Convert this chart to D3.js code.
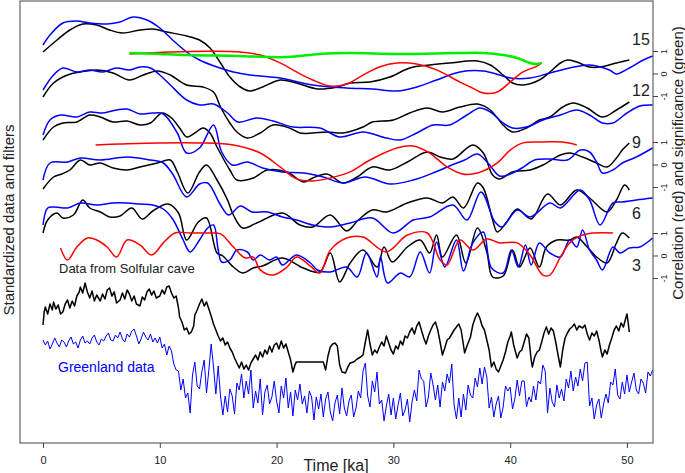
<!DOCTYPE html>
<html>
<head>
<meta charset="utf-8">
<script src="https://cdnjs.cloudflare.com/ajax/libs/d3/7.8.5/d3.min.js"></script>
<style>
  body { margin: 0; background: #fff; }
  text { font-family: "Liberation Sans", Arial, sans-serif; fill: #222; }
</style>
</head>
<body>
<div id="chart"></div>
<script>
// ---- data: [time ka, standardized value] ----
// filtered records, one pair per filter period (black = Solfular, blue = Greenland)
var filt15Black = [[0,0.8],[1.2,2.0],[2.3,3.0],[3.4,3.6],[4.6,3.5],[5.7,3.0],[6.8,2.7],[8.3,3.0],[9.4,3.1],[10.6,2.8],[12.3,2.4],[13.4,2.0],[14.3,1.2],[15.2,-0.3],[16.0,-1.7],[16.9,-2.7],[17.7,-3.1],[18.8,-2.7],[20.3,-2.0],[21.7,-2.3],[23.5,-2.9],[25.2,-2.7],[26.3,-2.3],[28.0,-2.2],[29.7,-1.7],[31.4,-0.8],[33.1,-0.5],[34.8,-0.3],[37.2,-0.1],[38.3,-0.5],[39.4,-1.5],[40.2,-2.3],[41.1,-2.5],[42.5,-2.0],[43.4,-1.2],[44.3,-0.3],[44.9,0],[45.7,-0.2],[46.8,-0.7],[47.7,-0.7],[49.1,-0.3],[50.2,0]];
var filt15Blue = [[0,1.5],[0.6,2.5],[1.7,3.7],[2.9,3.9],[4.0,3.7],[5.5,3.6],[6.6,3.8],[7.7,4.3],[8.9,4.0],[10.0,3.2],[11.1,2.0],[12.3,0.8],[13.4,0],[14.9,-0.7],[16.3,-1.2],[17.7,-1.5],[20.3,-1.8],[23.1,-2.5],[26.0,-2.8],[28.2,-2.9],[30.3,-3.1],[32.0,-2.7],[33.7,-2.0],[35.7,-1.2],[37.7,-1.1],[39.1,-1.5],[40.0,-1.8],[41.7,-1.8],[43.4,-1.3],[45.1,-0.8],[46.8,-0.5],[48.5,-1.0],[49.1,-1.4],[50.2,-0.8],[51.4,0],[52.2,0.4]];
var filt12Black = [[0,0.3],[0.9,1.7],[2.1,2.5],[3.2,2.8],[4.6,3.0],[6.0,2.7],[7.4,2.0],[8.6,2.5],[9.8,2.9],[10.9,2.5],[12.3,1.5],[13.7,1.3],[14.6,0.8],[15.2,-0.7],[16.0,-2.3],[16.6,-3.2],[17.5,-3.8],[18.6,-3.3],[19.7,-2.5],[21.1,-2.8],[22.0,-3.3],[23.1,-3.3],[24.3,-3.2],[25.7,-3.3],[27.4,-2.7],[28.2,-2.2],[30.0,-2.0],[31.4,-1.3],[32.9,-0.8],[34.2,-1.2],[35.7,-0.7],[37.2,-0.4],[38.3,-1.0],[39.4,-2.5],[40.2,-3.2],[41.4,-2.8],[42.5,-2.0],[43.4,-1.7],[44.5,-0.7],[45.4,-0.3],[46.6,-0.8],[47.9,-1.7],[49.1,-1.0],[50.2,-0.2]];
var filt12Blue = [[0,1.0],[0.9,2.5],[1.7,3.2],[2.9,2.8],[4.0,3.0],[5.1,2.8],[6.3,3.2],[7.4,3.0],[8.3,3.3],[9.2,3.2],[10.0,2.5],[10.9,1.5],[12.3,0],[13.4,-0.5],[14.6,-0.4],[15.8,-1.3],[16.7,-2.2],[18.3,-1.8],[19.7,-2.1],[21.4,-2.7],[23.7,-2.8],[25.4,-3.7],[27.4,-3.2],[29.4,-3.8],[30.6,-4.0],[32.0,-3.3],[33.4,-2.5],[34.8,-2.5],[36.3,-1.5],[37.4,-0.8],[38.3,-1.2],[39.4,-2.3],[40.2,-2.8],[41.4,-2.7],[42.8,-2.0],[44.3,-1.5],[45.7,-1.0],[46.8,-1.5],[47.9,-2.3],[48.8,-2.3],[50.0,-1.3],[51.1,-0.6],[52.2,-0.5]];
var filt9Black = [[0,0.5],[0.9,1.8],[1.7,2.2],[2.9,2.3],[4.0,3.0],[4.9,2.8],[6.0,2.3],[7.2,2.4],[8.3,2.0],[9.2,2.2],[10.2,3.2],[11.0,2.7],[11.7,1.7],[12.3,0.8],[13.0,1.2],[13.7,1.7],[14.3,1.2],[14.9,-0.2],[16.0,-2.5],[16.6,-3.5],[18.0,-3.3],[19.2,-2.5],[20.9,-2.7],[22.3,-3.7],[23.1,-3.3],[24.3,-2.9],[25.7,-3.8],[26.9,-3.2],[28.2,-2.2],[29.7,-2.5],[31.2,-1.7],[32.9,-0.7],[34.0,-1.2],[35.1,-1.4],[36.8,0],[37.7,-0.8],[38.5,-3.0],[39.1,-3.4],[40.2,-2.7],[41.7,-2.5],[42.8,-2.0],[44.3,-1.0],[45.1,-0.8],[46.2,-1.2],[47.4,-1.8],[48.3,-2.2],[49.1,-1.3],[49.6,-0.5],[50.2,0.2]];
var filt9Blue = [[0,1.0],[0.6,2.5],[1.5,3.0],[2.9,2.8],[4.0,3.3],[5.1,3.2],[6.3,3.5],[7.2,3.6],[8.3,3.1],[9.4,3.2],[10.3,3.1],[11.5,1.2],[12.3,-0.8],[13.4,-0.3],[14.6,2.0],[15.3,-0.7],[16.2,-2.0],[17.5,-1.7],[18.8,-2.3],[20.5,-2.7],[22.3,-2.8],[24.0,-3.2],[25.7,-3.8],[27.6,-3.2],[29.7,-3.9],[31.7,-3.5],[33.6,-2.7],[35.0,-2.0],[36.1,-1.5],[37.2,-0.9],[38.1,-1.8],[39.1,-3.1],[40.0,-2.9],[41.0,-2.3],[42.1,-1.5],[43.4,-1.4],[44.9,-1.5],[46.0,-0.5],[46.8,-0.7],[47.4,-1.7],[47.9,-2.8],[48.8,-2.5],[49.6,-1.8],[50.8,-1.2],[52.2,-0.3]];
var filt6Black = [[0,1.1],[0.9,2.3],[1.6,2.6],[2.3,3.0],[3.2,4.0],[4.0,3.5],[4.9,3.7],[6.0,3.2],[7.2,3.0],[8.3,3.3],[9.8,3.7],[10.9,4.0],[11.5,2.8],[12.4,0.7],[13.4,2.8],[14.0,3.5],[14.9,2.0],[15.8,0],[16.3,-1.5],[17.1,-2.8],[18.3,-2.3],[20.5,-1.3],[22.0,-2.5],[23.1,-2.7],[24.6,-1.5],[26.0,-3.1],[27.0,-2.0],[28.2,-1.0],[29.4,-1.2],[31.2,-0.3],[32.9,0.2],[34.2,-0.3],[35.1,0.3],[36.0,-0.8],[37.2,1.7],[37.7,1.2],[38.5,-2.0],[38.9,-3.2],[39.7,-2.2],[40.6,-0.9],[41.8,-1.9],[43.2,0.6],[44.3,-0.5],[45.7,1.0],[46.8,0.2],[48.3,-1.2],[49.1,0],[49.8,1.5],[50.2,1.0]];
var filt6Blue = [[0,2.0],[0.6,3.7],[2.1,3.8],[3.2,4.2],[4.9,4.0],[7.2,4.3],[9.2,4.0],[10.3,3.7],[11.1,2.6],[12.3,0.3],[13.4,1.6],[14.1,1.7],[15.2,-0.5],[15.9,-1.5],[16.9,-0.6],[17.9,-1.2],[19.2,-1.2],[20.5,-1.7],[21.7,-2.0],[23.1,-2.5],[24.6,-2.7],[26.3,-2.3],[28.2,-1.8],[30.0,-3.3],[31.7,-2.0],[33.1,-1.7],[35.1,-0.5],[36.3,-2.0],[37.5,0.8],[38.7,-2.2],[39.3,-2.7],[40.6,-1.0],[41.7,-1.7],[43.4,-0.3],[44.3,-0.8],[46.0,1.0],[46.8,0],[47.7,-2.5],[48.8,-0.3],[49.6,-0.2],[50.8,0],[52.2,0.2]];
var filt3Black = [[0,1.7],[0.4,3.0],[1.2,3.7],[1.7,3.2],[2.6,3.5],[3.4,5.0],[4.0,4.2],[4.9,3.8],[5.7,3.3],[6.6,3.4],[7.6,4.2],[8.5,3.1],[9.4,3.9],[10.7,4.6],[11.6,3.7],[12.3,1.0],[13.3,2.8],[14.0,3.2],[14.9,-0.3],[15.4,-0.6],[16.3,-1.7],[17.1,-2.3],[18.0,-1.8],[18.8,-1.6],[20.5,-0.8],[22.3,-1.8],[23.7,-2.2],[24.6,-0.3],[25.4,-3.2],[26.3,-1.3],[27.4,0],[28.6,-1.7],[29.2,0.3],[29.9,-1.2],[31.2,0.3],[32.3,1.0],[33.1,-0.3],[33.7,1.5],[34.2,-0.7],[35.4,1.5],[36.2,-1.3],[37.2,2.2],[38.0,-0.2],[38.5,-2.7],[39.4,-2.6],[40.2,0],[40.8,-1.7],[41.7,0.2],[42.5,-1.7],[43.1,0.3],[44.0,1.0],[45.1,1.0],[45.7,1.3],[46.6,0.3],[47.4,-0.7],[48.3,-1.3],[49.1,0.7],[49.6,1.7],[50.2,1.2]];
var filt3Blue = [[0,2.5],[0.4,4.2],[1.0,4.3],[2.1,4.2],[3.2,4.7],[4.6,4.5],[6.0,4.7],[7.2,4.7],[8.3,4.6],[9.4,4.5],[10.3,4.1],[11.1,3.1],[12.0,1.0],[12.6,-0.2],[13.4,1.0],[14.1,2.2],[14.6,2.5],[15.0,0],[15.3,-1.2],[16.0,-1.0],[16.6,0],[17.5,-0.2],[18.0,-1.0],[18.6,-0.5],[19.4,-1.0],[20.0,-0.7],[20.5,-1.5],[21.7,-0.5],[22.9,-1.3],[23.5,-2.0],[24.6,-2.2],[26.0,-1.7],[26.9,-2.7],[27.7,-0.3],[28.6,-2.7],[28.9,-0.7],[29.5,-3.3],[30.6,-2.3],[31.4,-2.7],[32.3,-0.2],[33.1,-2.3],[33.7,0.8],[34.4,-1.7],[35.4,1.0],[36.0,-2.1],[36.8,0.7],[37.7,1.8],[38.4,-1.8],[39.4,-2.3],[40.1,0],[40.7,-1.7],[41.3,0.5],[41.8,-1.5],[42.5,0.7],[43.4,-0.3],[44.3,-0.7],[45.1,1.0],[45.7,0.3],[46.2,2.0],[46.8,0],[47.4,-1.0],[47.9,-2.0],[48.8,0.3],[49.4,-0.3],[50.2,0.2],[51.1,0.3],[52.2,1.2]];

// running correlation (red) and significance (green), [time ka, r]
var corr15 = [[7.4,0.87],[10.9,0.96],[14.3,0.99],[16.9,0.96],[18.6,0.82],[20.3,0.47],[21.7,0.07],[23.1,-0.29],[24.6,-0.56],[26.0,-0.47],[27.4,-0.07],[28.8,0.29],[30.3,0.47],[32.0,0.42],[33.7,0.16],[35.7,-0.38],[36.6,-0.6],[37.7,-0.87],[38.9,-0.82],[40.0,-0.38],[41.1,0.07],[42.3,0.33],[42.7,0.47]];
var sig15 = [[7.4,0.91],[9.5,0.88],[12.3,0.82],[16.6,0.78],[20.9,0.73],[23.7,0.87],[26.3,0.91],[30.3,0.87],[35.7,0.91],[37.7,0.91],[39.4,0.82],[40.6,0.69],[41.7,0.47],[42.3,0.42],[42.7,0.47]];
var corr9 = [[4.5,0.87],[6.6,0.91],[10.0,0.96],[13.4,0.96],[16.3,0.87],[18.6,0.51],[20.3,-0.11],[21.7,-0.64],[23.1,-0.73],[24.6,-0.6],[26.3,-0.33],[28.0,0.2],[30.3,0.73],[31.7,0.82],[33.1,0.51],[34.6,-0.11],[35.9,-0.42],[37.2,-0.38],[38.9,0.07],[40.0,0.64],[41.1,0.96],[42.8,1.0],[44.5,1.0],[45.7,0.87]];
var corr3 = [[1.5,0.33],[2.1,-0.2],[2.9,0.38],[3.8,0.78],[4.6,0.69],[5.5,0.38],[6.3,-0.07],[7.2,0.69],[8.3,0.47],[9.3,0.02],[10.3,0.56],[11.3,1.0],[12.6,1.0],[14.3,1.0],[15.2,0.96],[16.3,0.38],[17.3,-0.11],[18.0,-0.07],[18.6,-0.64],[19.7,-0.87],[20.9,-0.51],[21.7,-0.07],[22.9,-0.47],[23.7,-0.78],[24.6,0.24],[26.0,0.78],[27.4,0.82],[29.4,0.16],[31.2,0.91],[32.9,1.0],[34.0,-0.2],[34.6,-0.42],[35.7,0.69],[36.8,0.24],[38.0,0.73],[39.1,0.56],[40.6,0.56],[41.7,0.02],[42.8,-0.87],[43.4,-0.87],[44.3,-0.07],[45.1,0.56],[46.0,0.87],[47.1,1.0],[48.8,1.0]];

// raw Solfular cave record (gap 21.7-24 ka drawn as straight line)
var solfular = [[0,0.5],[0.1,1.8],[0.2,2.3],[0.4,1.6],[0.6,2.6],[0.8,2.0],[0.9,2.8],[1.1,2.1],[1.3,2.5],[1.5,1.6],[1.7,1.8],[1.9,2.6],[2.1,3.0],[2.3,2.2],[2.5,2.9],[2.7,2.4],[2.9,3.4],[3.1,3.8],[3.2,4.3],[3.4,3.7],[3.6,4.7],[3.8,3.8],[4.0,3.2],[4.2,3.9],[4.4,2.9],[4.6,3.5],[4.9,2.9],[5.1,3.6],[5.3,3.1],[5.5,4.0],[5.7,4.2],[5.9,3.4],[6.1,3.8],[6.3,2.7],[6.6,3.0],[6.8,3.7],[7.0,3.1],[7.2,4.0],[7.4,3.6],[7.6,2.9],[7.8,3.4],[8.0,2.6],[8.3,2.4],[8.5,3.3],[8.7,3.0],[8.9,3.8],[9.1,4.1],[9.3,3.5],[9.5,3.9],[9.7,3.2],[10.0,3.4],[10.2,4.0],[10.4,3.6],[10.6,4.3],[10.8,4.4],[11.0,3.7],[11.2,3.2],[11.4,3.4],[11.6,2.2],[11.7,1.3],[11.9,0.8],[12.1,0],[12.3,0.2],[12.5,-0.4],[12.7,-0.2],[12.9,0.4],[13.0,1.5],[13.2,2.0],[13.4,2.6],[13.6,3.1],[13.8,2.4],[14.0,2.8],[14.2,2.1],[14.4,1.4],[14.6,0.6],[14.8,0],[15.0,-0.6],[15.2,-1.1],[15.4,-0.8],[15.6,-1.5],[15.8,-1.2],[16.0,-1.8],[16.2,-2.2],[16.4,-2.8],[16.6,-3.3],[16.8,-3.8],[17.0,-3.2],[17.2,-3.9],[17.4,-3.5],[17.6,-4.0],[17.8,-3.3],[18.0,-2.9],[18.2,-2.5],[18.4,-3.0],[18.6,-2.2],[18.8,-2.7],[19.0,-2.0],[19.2,-2.4],[19.4,-1.6],[19.6,-2.2],[19.8,-1.5],[20.0,-1.3],[20.2,-1.9],[20.4,-1.1],[20.6,-1.8],[20.8,-1.4],[21.0,-2.2],[21.2,-3.0],[21.4,-4.2],[21.6,-3.4],[21.7,-3.2],[24.0,-3.2],[24.2,-4.0],[24.4,-2.6],[24.6,-1.7],[24.8,-1.4],[25.0,-1.3],[25.2,-1.6],[25.4,-3.5],[25.6,-4.2],[25.9,-4.3],[26.1,-3.7],[26.3,-3.3],[26.6,-3.2],[26.9,-2.9],[27.2,-2.7],[27.4,-2.5],[27.6,-1.2],[27.8,0],[28.0,-1.4],[28.2,-2.5],[28.4,-2.0],[28.6,-2.3],[28.8,-1.7],[29.0,-1.2],[29.2,-1.6],[29.4,-0.6],[29.6,-1.3],[29.8,-2.0],[30.0,-2.4],[30.2,-1.6],[30.4,-1.9],[30.6,-1.1],[30.8,-1.5],[31.0,-0.6],[31.2,-0.8],[31.4,-0.2],[31.6,0.2],[31.8,-0.4],[32.0,0.4],[32.2,0.8],[32.4,0],[32.6,-0.8],[32.8,-1.4],[33.0,-0.6],[33.2,0],[33.4,0.5],[33.6,0.8],[33.8,0],[34.0,-1.2],[34.2,-2.5],[34.4,-1.8],[34.6,-1.0],[34.8,-0.8],[35.0,-0.4],[35.2,0],[35.4,0.3],[35.6,0.6],[35.8,0],[36.0,-1.5],[36.1,-2.3],[36.3,-1.6],[36.6,-0.7],[36.8,0.5],[37.0,1.2],[37.2,1.7],[37.4,1.2],[37.6,0.4],[37.8,0],[38.0,-1.0],[38.2,-2.0],[38.4,-3.7],[38.6,-3.2],[38.8,-3.9],[39.0,-4.2],[39.2,-3.6],[39.4,-3.0],[39.6,-2.2],[39.8,-1.2],[40.0,-0.6],[40.1,-0.2],[40.3,-1.5],[40.6,-2.8],[40.8,-2.2],[41.0,-2.0],[41.2,-1.2],[41.4,-0.4],[41.6,-0.8],[41.8,-3.0],[41.9,-3.7],[42.1,-2.7],[42.3,-2.2],[42.5,-2.0],[42.7,-1.2],[42.9,-0.3],[43.1,0.3],[43.3,-0.4],[43.5,0.2],[43.7,-0.1],[43.9,-1.2],[44.1,-2.5],[44.3,-3.7],[44.5,-2.0],[44.7,-0.8],[44.9,-0.3],[45.1,0.1],[45.3,0.3],[45.5,0.6],[45.7,0],[45.9,0.4],[46.2,0.2],[46.4,0.5],[46.6,-0.4],[46.8,-1.0],[47.0,-0.3],[47.2,-0.6],[47.4,-0.1],[47.6,-1.0],[47.8,-2.2],[47.9,-2.7],[48.1,-2.0],[48.3,-2.4],[48.5,-1.5],[48.7,-0.8],[48.9,0],[49.1,0.4],[49.3,-0.1],[49.5,0.7],[49.7,0.3],[49.9,1.2],[50.0,1.6],[50.1,0.8],[50.2,-0.2]];

// raw Greenland record, evenly sampled from 0 ka every 0.2 ka
var greenlandStart = 0, greenlandStep = 0.2;
var greenland = [
  5.0,4.5,4.9,4.1,4.6,5.2,4.7,4.3,5.0,4.8, 4.3,4.9,5.3,4.6,4.8,4.2,5.0,5.4,4.7,4.9,
  4.6,5.2,5.5,4.8,4.5,5.1,4.9,5.4,5.7,5.0, 4.9,5.5,5.2,5.8,5.1,4.8,5.6,5.3,5.9,6.1,
  5.4,4.6,5.1,5.8,5.3,5.0,5.6,4.8,5.2,4.7, 5.3,4.2,4.6,3.5,4.4,3.9,2.6,2.0,1.9,0.0,
  1.1,-0.8,-0.3,-2.3,1.5,2.8,0.4,0.1,1.8,3.0, -0.3,2.0,4.6,2.3,-0.4,2.4,-0.6,-2.5,-0.6,-2.2,
  0.1,-0.6,-2.4,0.7,0,1.6,-0.8,0.9,-0.4,2.0, -1.8,-0.1,-1.3,1.1,-2.5,-0.2,0.5,-1.4,-0.7,0.9,
  -1.1,-2.3,0.4,-0.8,1.2,-1.8,-0.2,-2.6,0,-1.0, 0.6,-1.4,-0.6,-2.3,-0.1,-0.7,-3.0,-0.7,-1.9,-0.4,
  -2.7,-0.9,-0.2,-2.2,-3.1,-1.3,-0.5,-2.4,0.2,-1.8, -2.6,-1.1,-0.5,-2.7,-1.8,-0.1,-0.8,1.9,2.7,-0.6,
  -1.7,0.9,-0.2,1.8,-1.4,-1.0,-3.1,-1.6,-0.4,-2.5, -0.8,-2.9,-1.5,-0.3,-2.6,-2.0,-0.9,-3.2,-1.2,0.0,
  -1.1,2.0,1.1,0.9,-1.7,-0.7,1.7,0.5,-1.0,0.5, -1.7,0.8,-0.1,1.6,0.7,2.6,-1.5,-2.9,-0.8,-2.7,
  -0.4,-2.0,0.5,-0.5,-0.8,1.2,0.3,2.2,0.6,2.3, 1.3,-1.8,-0.7,-2.7,-1.4,-0.6,-2.8,-1.7,0.4,-0.1,
  0.3,-1.9,-0.9,1.0,-0.6,0.9,0.9,-1.7,-0.7,-1.2, 0.4,-1.0,0.9,0.6,2.5,1.9,-2.3,0.2,-1.2,-1.7,
  0.5,-0.8,0.1,-1.1,1.1,0.2,1.9,-0.1,1.3,0.4, 2.1,0.9,2.7,2.8,-1.6,-0.8,-2.9,-1.5,-0.9,-2.8,
  -1.4,-0.4,-1.3,0.8,0.5,2.1,-0.5,-0.9,0.8,-0.4, 1.5,-0.2,0.8,1.7,0,-0.4,1.1,0.7,-0.3,1.8,
  1.4,2.0
];

var filterLabels = ["15", "12", "9", "6", "3"];
var timeTicks = [0, 10, 20, 30, 40, 50];
var corrTicks = [-1, 0, 1];

// ---- layout ----
var svgWidth = 685;
var svgHeight = 473;
var box = { left: 20, right: 653, top: 1, bottom: 443 };

// vertical offsets of the stacked curves (in y units)
var panelOffsets = [38.3, 34.3, 29.8, 24.3, 19.3];
var solfularOffset = 11.3;
var greenlandOffset = 5.3;
// zero lines of the three correlation axes and the size of one r unit
var corrZeros = [36.95, 27.85, 18.75];
var corrUnit = 2.25;

var svg = d3.select("#chart")
  .append("svg")
  .attr("width", svgWidth)
  .attr("height", svgHeight);

var xScale = d3.scaleLinear()
  .domain([-1.97, 52.23])
  .range([box.left, box.right]);

var yScale = d3.scaleLinear()
  .domain([0, 44.2])
  .range([box.bottom, box.top]);

var smoothLine = function(offset) {
  return d3.line()
    .x(d => xScale(d[0]))
    .y(d => yScale(d[1] + offset))
    .curve(d3.curveCatmullRom.alpha(0.5));
};

var rawLine = function(offset) {
  return d3.line()
    .x(d => xScale(d[0]))
    .y(d => yScale(d[1] + offset));
};

var plotGroup = svg.append("g");

// raw records
plotGroup.append("path")
  .attr("d", rawLine(greenlandOffset)(greenland.map((v, i) => [greenlandStart + i * greenlandStep, v])))
  .attr("fill", "none")
  .attr("stroke", "#0000ff")
  .attr("stroke-width", 1);

plotGroup.append("path")
  .attr("d", rawLine(solfularOffset)(solfular))
  .attr("fill", "none")
  .attr("stroke", "#000")
  .attr("stroke-width", 1.5)
  .attr("stroke-linejoin", "round");

// filtered pairs
var blackFilters = [filt15Black, filt12Black, filt9Black, filt6Black, filt3Black];
var blueFilters = [filt15Blue, filt12Blue, filt9Blue, filt6Blue, filt3Blue];

blackFilters.forEach(function(series, i) {
  plotGroup.append("path")
    .attr("d", smoothLine(panelOffsets[i])(series))
    .attr("fill", "none")
    .attr("stroke", "#000")
    .attr("stroke-width", 1.5);
  plotGroup.append("path")
    .attr("d", smoothLine(panelOffsets[i])(blueFilters[i]))
    .attr("fill", "none")
    .attr("stroke", "#0000ff")
    .attr("stroke-width", 1.5);
});

// correlation curves and right-hand axes
var corrSeries = [corr15, corr9, corr3];
corrSeries.forEach(function(series, i) {
  var corrScale = d3.scaleLinear()
    .domain([-1, 1])
    .range([yScale(corrZeros[i] - corrUnit), yScale(corrZeros[i] + corrUnit)]);

  var corrLine = d3.line()
    .x(d => xScale(d[0]))
    .y(d => corrScale(d[1]))
    .curve(d3.curveCatmullRom.alpha(0.5));

  plotGroup.append("path")
    .attr("d", corrLine(series))
    .attr("fill", "none")
    .attr("stroke", "#ff0000")
    .attr("stroke-width", 1.5);

  if (i === 0) {
    plotGroup.append("path")
      .attr("d", corrLine(sig15))
      .attr("fill", "none")
      .attr("stroke", "#00ee00")
      .attr("stroke-width", 2.5);
  }

  var rightAxis = svg.append("g")
    .attr("transform", `translate(${box.right}, 0)`)
    .call(d3.axisRight(corrScale).tickValues(corrTicks).tickFormat(d => String(d)).tickSize(5).tickSizeOuter(0));
  rightAxis.select(".domain").remove();
  rightAxis.selectAll("line").attr("stroke", "#444");
  rightAxis.selectAll("text")
    .attr("x", null)
    .attr("dy", null)
    .attr("transform", "translate(14, 0) rotate(-90)")
    .attr("text-anchor", "middle")
    .attr("font-size", "9px")
    .attr("fill", "#333");
});

// frame and time axis
svg.append("rect")
  .attr("x", box.left)
  .attr("y", box.top)
  .attr("width", box.right - box.left)
  .attr("height", box.bottom - box.top)
  .attr("fill", "none")
  .attr("stroke", "#444")
  .attr("stroke-width", 1);

var bottomAxis = svg.append("g")
  .attr("transform", `translate(0, ${box.bottom})`)
  .call(d3.axisBottom(xScale).tickValues(timeTicks).tickSize(5).tickPadding(8).tickSizeOuter(0));
bottomAxis.select(".domain").remove();
bottomAxis.selectAll("line").attr("stroke", "#444");
bottomAxis.selectAll("text")
  .attr("font-size", "11px")
  .attr("fill", "#333");

// filter period labels at the right end of each pair
var labelBaselines = [45, 96, 147.5, 218.5, 270.5];
svg.selectAll(".periodLabel")
  .data(filterLabels)
  .enter()
  .append("text")
  .attr("class", "periodLabel")
  .attr("x", 632)
  .attr("y", (d, i) => labelBaselines[i])
  .attr("font-size", "16px")
  .text(d => d);

svg.append("text")
  .attr("x", 59)
  .attr("y", 273)
  .attr("font-size", "13px")
  .text("Data from Solfular cave");

svg.append("text")
  .attr("x", 58)
  .attr("y", 372)
  .attr("font-size", "14px")
  .style("fill", "#0000ff")
  .text("Greenland data");

// axis titles
svg.append("text")
  .attr("x", 336)
  .attr("y", 471)
  .attr("text-anchor", "middle")
  .attr("font-size", "16px")
  .text("Time [ka]");

svg.append("text")
  .attr("transform", "translate(13.5, 220) rotate(-90)")
  .attr("text-anchor", "middle")
  .attr("font-size", "15px")
  .text("Standardized data and filters");

svg.append("text")
  .attr("transform", "translate(683, 163) rotate(-90)")
  .attr("text-anchor", "middle")
  .attr("font-size", "15px")
  .text("Correlation (red) and significance (green)");
</script>
</body>
</html>
